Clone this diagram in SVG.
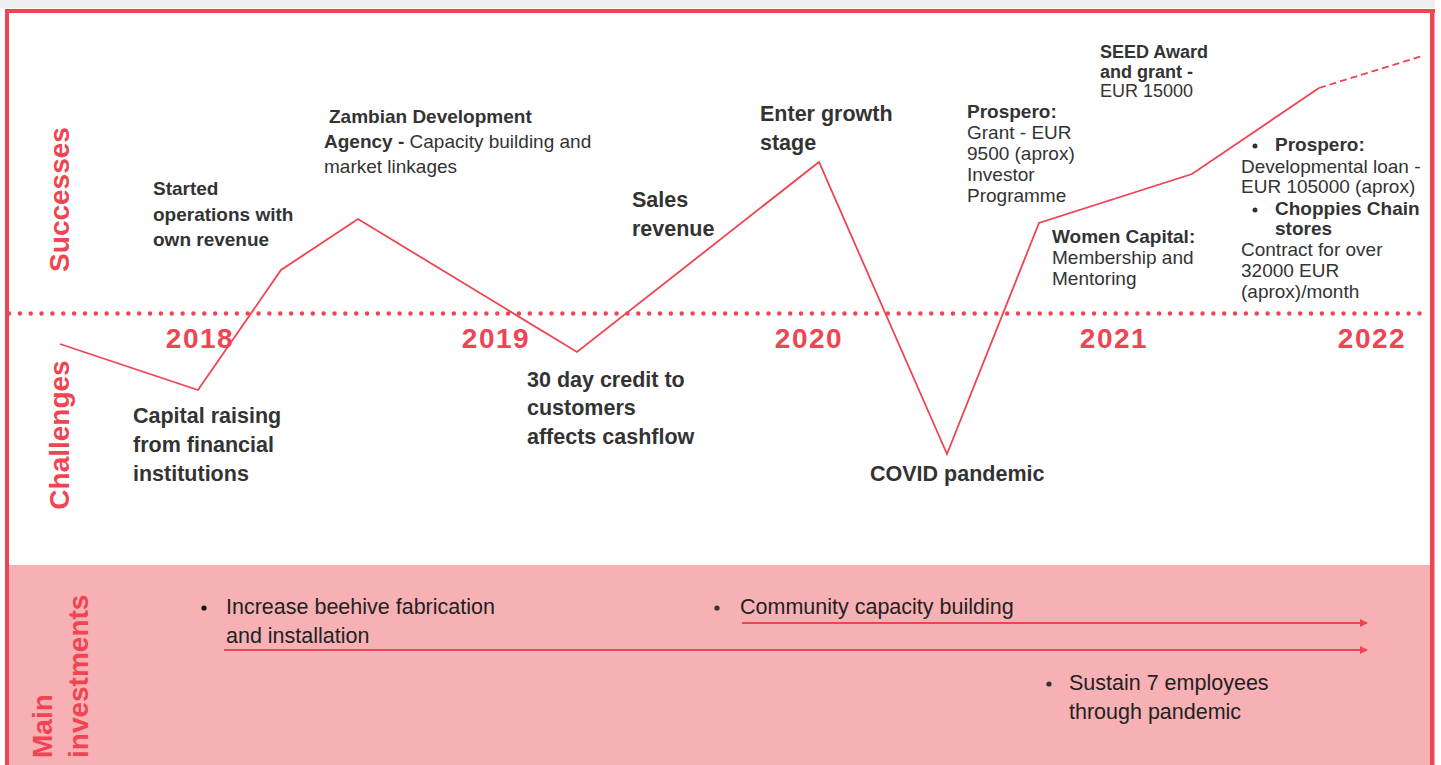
<svg xmlns="http://www.w3.org/2000/svg" width="1441" height="765" viewBox="0 0 1441 765">
<defs>
<style>
text{font-family:"Liberation Sans",Arial,sans-serif;fill:#333333}
.b{font-weight:bold}
.s{font-size:19px}
.s18{font-size:18px}
.m{font-size:21.5px;font-weight:bold}
.yr{font-size:28px;font-weight:bold;fill:#ef4452;text-anchor:middle;letter-spacing:1.5px}
.side{font-size:28px;font-weight:bold;fill:#ef4452}
.inv{font-size:21.5px;fill:#222222}
.trend{fill:none;stroke:#ef4452;stroke-width:1.8;stroke-linejoin:miter}
.arr{fill:none;stroke:#ef4452;stroke-width:2}
</style>
<marker id="ah" viewBox="0 0 8 8" refX="7" refY="4" markerWidth="8" markerHeight="8" markerUnits="userSpaceOnUse" orient="auto">
<path d="M0,0 L8,4 L0,8 Z" fill="#ef4452"/>
</marker>
</defs>
<rect x="0" y="0" width="1441" height="765" fill="#ffffff"/>
<rect x="0" y="0" width="1435" height="8" fill="#eeeeee"/>
<rect x="9" y="565" width="1421" height="200" fill="#f7b0b4"/>
<g id="frame" fill="#ef4452">
<rect x="5" y="9" width="1430" height="4"/>
<rect x="5" y="9" width="4" height="756"/>
<rect x="1430" y="9" width="4.5" height="756"/>
</g>
<line x1="9" y1="313.5" x2="1428" y2="313.5" stroke="#ef4452" stroke-width="4.5" stroke-linecap="round" stroke-dasharray="0 10.85"/>
<g id="side-labels">
<text class="side" transform="translate(69,199.5) rotate(-90)" text-anchor="middle">Successes</text>
<text class="side" transform="translate(69,435) rotate(-90)" text-anchor="middle">Challenges</text>
<text class="side" transform="translate(52,758) rotate(-90)">Main</text>
<text class="side" transform="translate(88,758) rotate(-90)">investments</text>
</g>
<g id="years">
<text class="yr" x="200" y="348">2018</text>
<text class="yr" x="496" y="348">2019</text>
<text class="yr" x="809" y="348">2020</text>
<text class="yr" x="1114" y="348">2021</text>
<text class="yr" x="1372" y="348">2022</text>
</g>
<g id="connectors">
<polyline class="trend" points="60,344 198,390 281,270 358,219 577,352 819,162 947,454 1039,223 1192,174 1319,88"/>
<line class="trend" x1="1319" y1="88" x2="1422" y2="56" stroke-dasharray="7 4"/>
<line class="arr" x1="742" y1="623" x2="1367" y2="623" marker-end="url(#ah)"/>
<line class="arr" x1="224" y1="650" x2="1367" y2="650" marker-end="url(#ah)"/>
</g>
<g id="started">
<text class="s b" x="153" y="195">Started</text>
<text class="s b" x="153" y="221">operations with</text>
<text class="s b" x="153" y="246">own revenue</text>
</g>
<g id="zambian">
<text class="s b" x="329" y="123">Zambian Development</text>
<text class="s" x="324" y="148"><tspan class="b">Agency - </tspan>Capacity building and</text>
<text class="s" x="324" y="173">market linkages</text>
</g>
<g id="sales">
<text class="m" x="632" y="207">Sales</text>
<text class="m" x="632" y="236">revenue</text>
</g>
<g id="growth">
<text class="m" x="760" y="121">Enter growth</text>
<text class="m" x="760" y="150">stage</text>
</g>
<g id="prospero-grant">
<text class="s b" x="967" y="118">Prospero:</text>
<text class="s" x="967" y="139">Grant - EUR</text>
<text class="s" x="967" y="160">9500 (aprox)</text>
<text class="s" x="967" y="181">Investor</text>
<text class="s" x="967" y="202">Programme</text>
</g>
<g id="seed">
<text class="s18 b" x="1100" y="58">SEED Award</text>
<text class="s18 b" x="1100" y="78">and grant -</text>
<text class="s18" x="1100" y="97">EUR 15000</text>
</g>
<g id="women-capital">
<text class="s b" x="1052" y="243">Women Capital:</text>
<text class="s" x="1052" y="264">Membership and</text>
<text class="s" x="1052" y="285">Mentoring</text>
</g>
<g id="prospero-loan">
<circle cx="1255" cy="146" r="2.5" fill="#333333"/>
<text class="s b" x="1275" y="151">Prospero:</text>
<text class="s" x="1241" y="173">Developmental loan -</text>
<text class="s" x="1241" y="193">EUR 105000 (aprox)</text>
<circle cx="1255" cy="210" r="2.5" fill="#333333"/>
<text class="s b" x="1275" y="215">Choppies Chain</text>
<text class="s b" x="1275" y="235">stores</text>
<text class="s" x="1241" y="256">Contract for over</text>
<text class="s" x="1241" y="277">32000 EUR</text>
<text class="s" x="1241" y="298">(aprox)/month</text>
</g>
<g id="capital-raising">
<text class="m" x="133" y="423">Capital raising</text>
<text class="m" x="133" y="452">from financial</text>
<text class="m" x="133" y="481">institutions</text>
</g>
<g id="credit">
<text class="m" x="527" y="387">30 day credit to</text>
<text class="m" x="527" y="415">customers</text>
<text class="m" x="527" y="444">affects cashflow</text>
</g>
<g id="covid">
<text class="m" x="870" y="481">COVID pandemic</text>
</g>
<g id="inv-beehive">
<circle cx="204" cy="608" r="2.6" fill="#111111"/>
<text class="inv" x="226" y="614">Increase beehive fabrication</text>
<text class="inv" x="226" y="643">and installation</text>
</g>
<g id="inv-community">
<circle cx="717" cy="608" r="2.6" fill="#333333"/>
<text class="inv" x="740" y="614">Community capacity building</text>
</g>
<g id="inv-employees">
<circle cx="1049" cy="684" r="2.6" fill="#333333"/>
<text class="inv" x="1069" y="690">Sustain 7 employees</text>
<text class="inv" x="1069" y="719">through pandemic</text>
</g>
</svg>
